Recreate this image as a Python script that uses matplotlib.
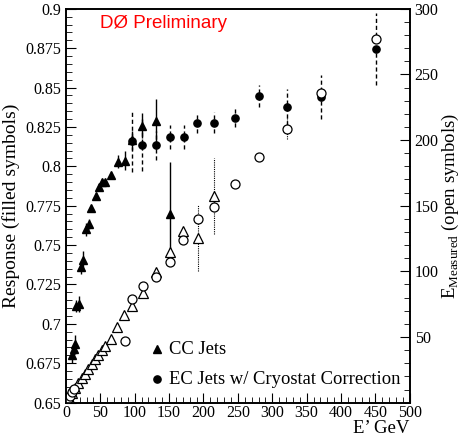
import matplotlib
matplotlib.use("Agg")
import matplotlib.pyplot as plt
from matplotlib.ticker import MultipleLocator

# CC jets, response (filled triangles)
cc_e = [8.7, 11.6, 13.0, 14.5, 19.3, 21.8, 25.2, 29.0, 33.4, 36.8, 43.6, 47.5,
        52.8, 56.7, 65.4, 75.6, 85.3, 95.4, 110.9, 130.8, 151.6]
cc_resp = [0.680, 0.684, 0.687, 0.7114, 0.7126, 0.7359, 0.7405, 0.760, 0.7634,
           0.7735, 0.7813, 0.7866, 0.7898, 0.7902, 0.7945, 0.8029, 0.8036,
           0.8165, 0.8258, 0.8287, 0.7697]
cc_err = [0.005, 0.004, 0.006, 0.004, 0.005, 0.004, 0.006, 0.004, 0.003,
          0.002, 0.002, 0.002, 0.002, 0.002, 0.002, 0.004, 0.006,
          0.006, 0.008, 0.014, 0.033]

# EC jets, response (filled circles)
ec_e = [95.4, 110.9, 130.8, 151.0, 171.0, 190.9, 215.0, 245.6, 281.0, 321.7, 371.0, 451.0]
ec_resp = [0.8158, 0.8133, 0.8133, 0.8186, 0.8186, 0.8275, 0.8277, 0.8308,
           0.8446, 0.8375, 0.8442, 0.8746]
ec_err = [0.0195, 0.0165, 0.009, 0.0075, 0.0075, 0.0065, 0.0065, 0.006,
          0.007, 0.0115, 0.014, 0.023]

# CC jets, measured energy (open triangles)
cco_e = [4.4, 8.3, 13.1, 17.9, 22.8, 27.6, 32.5, 37.3, 42.2, 47.0, 51.8, 57.2,
         65.4, 74.6, 84.8, 95.4, 111.4, 130.8, 151.2, 170.5, 191.4, 215.6]
cco_meas = [3.6, 7.4, 11.2, 15.0, 18.8, 22.1, 25.7, 29.7, 33.3, 36.5, 40.3, 43.4,
            48.7, 57.6, 67.0, 73.9, 83.5, 99.2, 114.4, 130.4, 125.4, 157.1]
cco_err = [0, 0, 0, 0, 0, 0, 0, 0, 0, 0, 0, 0,
           0, 0, 0, 0, 0, 0, 0, 0, 25, 29]

# EC jets, measured energy (open circles)
eco_e = [3.0, 6.0, 9.0, 12.0, 85.8, 95.4, 111.4, 130.8, 151.2, 170.5, 191.4,
         215.6, 245.6, 281.0, 321.7, 371.0, 451.0]
eco_meas = [2.5, 5.0, 8.0, 10.5, 47.0, 79.2, 89.1, 95.4, 107.1, 123.6, 140.1,
            149.0, 166.5, 187.0, 208.6, 235.5, 277.2]
eco_err = [0, 0, 0, 0, 0, 0, 0, 0, 0, 0, 0,
           0, 0, 0, 8, 0, 0]

plt.rcParams['font.family'] = ['Liberation Serif', 'DejaVu Serif']

fig = plt.figure(figsize=(4.61, 4.41), dpi=100)
ax = fig.add_axes([0.143, 0.087, 0.746, 0.893])
ax2 = ax.twinx()

# filled symbols on the response axis
eb = ax.errorbar(cc_e, cc_resp, yerr=cc_err, fmt='^', color='black', ms=5.5,
                 elinewidth=1, capsize=0)
eb2 = ax.errorbar(ec_e, ec_resp, yerr=ec_err, fmt='o', color='black', ms=5.2,
                  elinewidth=1, capsize=0)
eb2[2][0].set_linestyle((0, (3, 2)))

# open symbols on the measured energy axis
eb3 = ax2.errorbar(cco_e, cco_meas, yerr=cco_err, fmt='^', mfc='white', mec='black',
                   color='black', ms=6.5, mew=0.9, elinewidth=0.8, capsize=0)
eb3[2][0].set_linestyle((0, (1, 1)))
eb4 = ax2.errorbar(eco_e, eco_meas, yerr=eco_err, fmt='o', mfc='white', mec='black',
                   color='black', ms=6.5, mew=0.9, elinewidth=0.8, capsize=0)
eb4[2][0].set_linestyle((0, (1, 1)))
ax2.patch.set_visible(False)

ax.set_xlim(0, 500)
ax.set_ylim(0.65, 0.9)
ax2.set_ylim(0, 300)

ax.xaxis.set_major_locator(MultipleLocator(50))
ax.xaxis.set_minor_locator(MultipleLocator(10))
ax.yaxis.set_major_locator(MultipleLocator(0.025))
ax.yaxis.set_minor_locator(MultipleLocator(0.005))
ax2.yaxis.set_major_locator(MultipleLocator(50))
ax2.yaxis.set_minor_locator(MultipleLocator(10))

ax.tick_params(axis='both', which='both', direction='in', top=False, right=False,
               labelsize=11.5)
ax.tick_params(axis='x', pad=2)
ax.tick_params(which='major', length=7)
ax.tick_params(which='minor', length=4)
ax.yaxis.set_major_formatter(plt.FuncFormatter(lambda v, p: f"{v:g}"))
ax2.tick_params(axis='y', which='both', direction='in', labelsize=11.5)
ax2.tick_params(which='major', length=7)
ax2.tick_params(which='minor', length=4)
ax2.set_yticks([50, 100, 150, 200, 250, 300])
ax2.set_yticklabels(['50', '100', '150', '200', '250', '300'])

for a in (ax, ax2):
    for s in a.spines.values():
        s.set_linewidth(1.2)

ax.set_ylabel('Response (filled symbols)', fontsize=14, labelpad=4)
ax2.set_ylabel(r'E$_{\mathregular{Measured}}$ (open symbols)', fontsize=13.5, labelpad=1)
ax.set_xlabel('E\u2019 GeV', fontsize=13.5, loc='right', labelpad=-1)

ax.text(0.099, 0.962, 'D\u00d8 Preliminary', transform=ax.transAxes, color='red',
        fontsize=13.5, family='Liberation Sans', va='center', ha='left')

# legend
ax.plot([0.265], [0.135], '^', color='black', ms=5.5, transform=ax.transAxes)
ax.text(0.30, 0.135, 'CC Jets', transform=ax.transAxes, fontsize=13.4, va='center')
ax.plot([0.265], [0.059], 'o', color='black', ms=5.2, transform=ax.transAxes)
ax.text(0.30, 0.059, 'EC Jets w/ Cryostat Correction', transform=ax.transAxes,
        fontsize=13.4, va='center')

fig.savefig('out.png', dpi=100)
